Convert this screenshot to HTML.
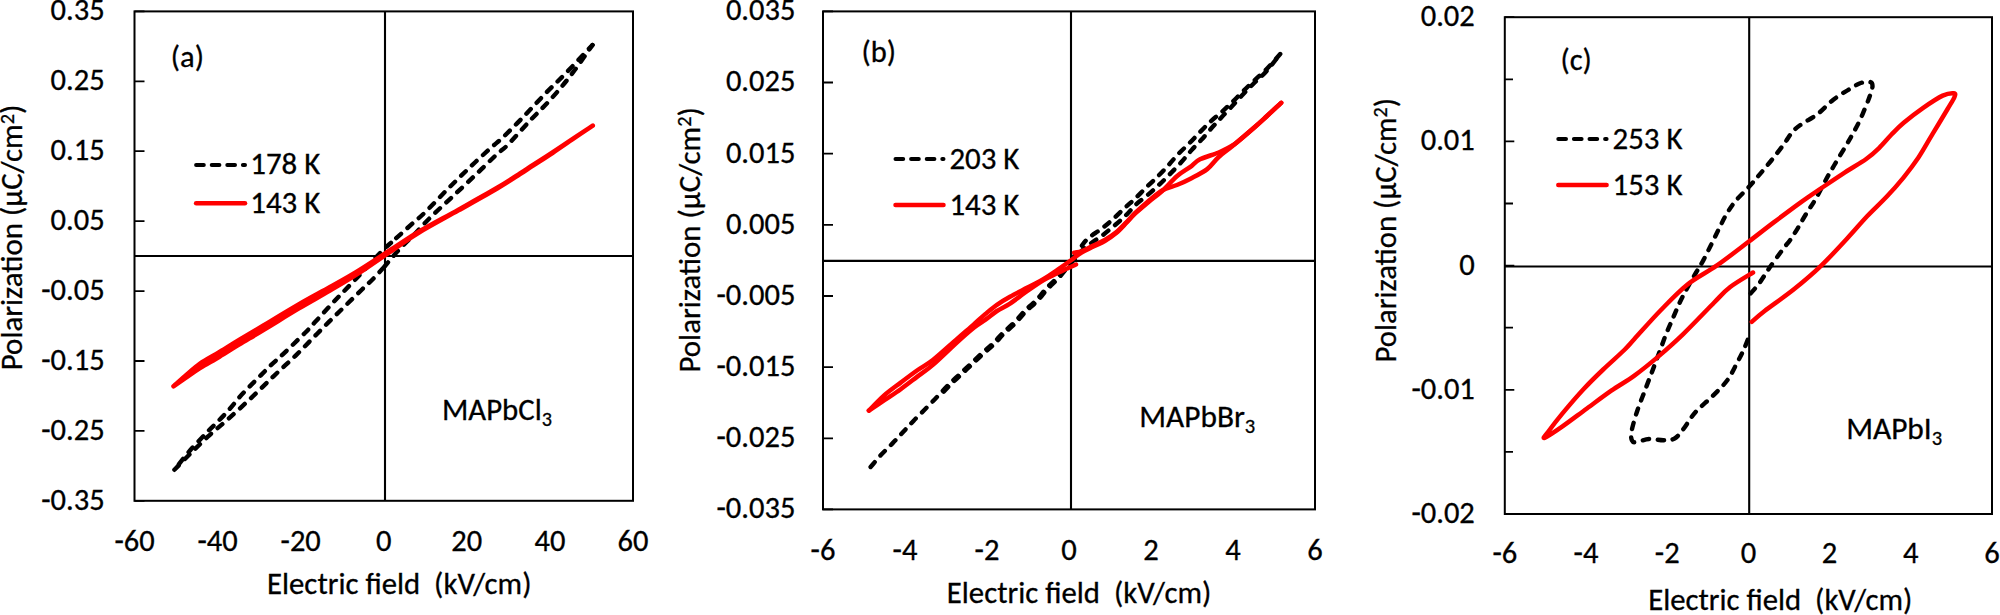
<!DOCTYPE html>
<html><head><meta charset="utf-8"><title>P-E hysteresis loops</title>
<style>
html,body{margin:0;padding:0;background:#fff;}
svg{display:block;}
text{font-family:Carlito, 'Liberation Sans', Arial, sans-serif;font-size:30.5px;fill:#000;stroke:#000;stroke-width:0.3px;}
</style></head><body>
<svg width="2000" height="615" viewBox="0 0 2000 615">
<rect width="2000" height="615" fill="#fff"/>
<path d="M134.5 256.0 H633.0 M385.0 11.4 V500.8" stroke="#000" stroke-width="2.1" fill="none"/>
<path d="M134.5 11.4 h10 M134.5 81.3 h10 M134.5 151.2 h10 M134.5 221.1 h10 M134.5 291.1 h10 M134.5 361.0 h10 M134.5 430.9 h10 M134.5 500.8 h10 " stroke="#000" stroke-width="1.8" fill="none"/>
<rect x="134.5" y="11.4" width="498.5" height="489.4" fill="none" stroke="#000" stroke-width="2"/>
<text x="104.6" y="20.3" text-anchor="end" textLength="54.1" lengthAdjust="spacingAndGlyphs">0.35</text>
<text x="104.6" y="90.2" text-anchor="end" textLength="54.1" lengthAdjust="spacingAndGlyphs">0.25</text>
<text x="104.6" y="160.1" text-anchor="end" textLength="54.1" lengthAdjust="spacingAndGlyphs">0.15</text>
<text x="104.6" y="230.0" text-anchor="end" textLength="54.1" lengthAdjust="spacingAndGlyphs">0.05</text>
<text x="104.6" y="300.0" text-anchor="end" textLength="63.4" lengthAdjust="spacingAndGlyphs">-0.05</text>
<text x="104.6" y="369.9" text-anchor="end" textLength="63.4" lengthAdjust="spacingAndGlyphs">-0.15</text>
<text x="104.6" y="439.8" text-anchor="end" textLength="63.4" lengthAdjust="spacingAndGlyphs">-0.25</text>
<text x="104.6" y="509.7" text-anchor="end" textLength="63.4" lengthAdjust="spacingAndGlyphs">-0.35</text>
<text x="134.5" y="550.6" text-anchor="middle" textLength="40.2" lengthAdjust="spacingAndGlyphs">-60</text>
<text x="217.6" y="550.6" text-anchor="middle" textLength="40.2" lengthAdjust="spacingAndGlyphs">-40</text>
<text x="300.7" y="550.6" text-anchor="middle" textLength="40.2" lengthAdjust="spacingAndGlyphs">-20</text>
<text x="383.8" y="550.6" text-anchor="middle" textLength="15.5" lengthAdjust="spacingAndGlyphs">0</text>
<text x="466.8" y="550.6" text-anchor="middle" textLength="30.9" lengthAdjust="spacingAndGlyphs">20</text>
<text x="549.9" y="550.6" text-anchor="middle" textLength="30.9" lengthAdjust="spacingAndGlyphs">40</text>
<text x="633.0" y="550.6" text-anchor="middle" textLength="30.9" lengthAdjust="spacingAndGlyphs">60</text>
<text x="267.0" y="594.3" textLength="264.5" lengthAdjust="spacingAndGlyphs" xml:space="preserve">Electric field&#160; (kV/cm)</text>
<text transform="translate(22.3 370.2) rotate(-90)" x="0" y="0" textLength="265.5" lengthAdjust="spacingAndGlyphs">Polarization (µC/cm<tspan font-size="20" dy="-8.7">2</tspan><tspan dy="8.7">)</tspan></text>
<path d="M196.1 164.9 H245.0" stroke="#000" stroke-width="4" stroke-linecap="round" stroke-dasharray="7.7 7.9" fill="none"/>
<path d="M196.1 203.2 H245.0" stroke="#f00" stroke-width="4.5" stroke-linecap="round" fill="none"/>
<text x="250.3" y="174.4" textLength="70.0" lengthAdjust="spacingAndGlyphs">178 K</text>
<text x="250.3" y="212.7" textLength="70.0" lengthAdjust="spacingAndGlyphs">143 K</text>
<text x="170.8" y="67.3" textLength="33.1" lengthAdjust="spacingAndGlyphs">(a)</text>
<text x="442.0" y="419.8" textLength="110.0" lengthAdjust="spacingAndGlyphs">MAPbCl<tspan font-size="20" dy="6">3</tspan></text>
<path d="M174.4 469.8 C177.0 467.2 184.4 459.5 190.0 454.0 C195.6 448.5 201.5 442.5 207.8 436.7 C214.1 430.9 220.8 425.6 228.0 419.2 C235.2 412.8 243.1 405.5 250.7 398.4 C258.3 391.2 266.1 383.4 273.5 376.3 C280.9 369.2 288.1 362.9 295.4 355.8 C302.7 348.7 309.8 341.2 317.2 333.7 C324.6 326.2 332.4 318.4 340.0 311.0 C347.6 303.6 357.0 294.3 362.5 289.0 C368.0 283.7 369.2 282.8 373.0 279.0 C376.8 275.2 383.0 268.2 385.0 266.0" fill="none" stroke="#000" stroke-width="4.4" stroke-linecap="round" stroke-linejoin="round" stroke-dasharray="6.4 8.6"/>
<path d="M174.4 469.8 C177.0 466.6 184.4 456.9 190.0 450.5 C195.6 444.1 203.0 436.5 207.8 431.5 C212.6 426.5 215.3 424.2 218.9 420.5 C222.5 416.8 226.0 413.2 229.3 409.4 C232.7 405.6 235.7 401.5 239.0 397.7 C242.3 393.9 245.8 390.4 249.4 386.7 C253.0 383.0 256.8 379.3 260.5 375.6 C264.2 371.9 267.7 368.2 271.5 364.6 C275.3 361.0 277.5 359.4 283.1 354.1 C288.7 348.8 299.6 338.2 304.9 333.0 C310.1 327.8 309.6 328.0 314.6 322.6 C319.6 317.2 328.0 307.9 335.0 300.5 C342.0 293.1 349.2 286.0 356.8 278.0 C364.4 270.0 375.0 258.3 380.7 252.4 C386.4 246.5 389.3 244.4 391.0 242.8" fill="none" stroke="#000" stroke-width="4.4" stroke-linecap="round" stroke-linejoin="round" stroke-dasharray="6.4 8.6" stroke-dashoffset="7.5"/>
<path d="M592.5 45.0 C588.9 50.0 577.9 66.2 570.9 75.2 C563.9 84.2 557.6 91.6 550.7 99.3 C543.8 107.0 536.4 113.8 529.3 121.4 C522.1 129.0 513.3 139.2 507.8 144.8 C502.3 150.4 501.6 149.8 496.1 155.0 C490.6 160.2 482.0 168.8 474.6 175.8 C467.2 182.8 459.3 190.3 451.9 197.2 C444.5 204.1 436.0 211.9 430.4 217.4 C424.8 222.9 421.8 226.5 418.3 230.2 C414.8 233.9 412.6 236.0 409.2 239.5 C405.8 243.0 401.8 246.6 397.8 251.0 C393.8 255.4 387.1 263.5 385.0 266.0" fill="none" stroke="#000" stroke-width="4.4" stroke-linecap="round" stroke-linejoin="round" stroke-dasharray="6.4 8.6" stroke-dashoffset="1"/>
<path d="M592.5 45.0 C588.2 49.5 574.8 63.9 567.0 72.0 C559.2 80.1 552.5 86.2 545.5 93.4 C538.5 100.7 531.7 108.2 524.7 115.5 C517.7 122.8 508.9 131.6 503.3 137.0 C497.7 142.4 496.6 142.6 490.9 147.8 C485.1 153.0 476.2 161.2 468.8 168.3 C461.4 175.4 454.0 182.8 446.7 190.1 C439.4 197.4 430.9 206.6 425.2 212.2 C419.5 217.8 418.3 218.3 412.6 223.4 C406.9 228.5 394.6 239.6 391.0 242.8" fill="none" stroke="#000" stroke-width="4.4" stroke-linecap="round" stroke-linejoin="round" stroke-dasharray="6.4 8.6" stroke-dashoffset="1"/>
<path d="M173.5 386.3 C175.6 384.9 181.6 380.8 186.0 377.7 C190.4 374.6 194.4 371.5 200.0 368.0 C205.6 364.5 213.0 360.6 219.5 356.7 C226.0 352.8 231.6 349.2 239.0 344.7 C246.4 340.2 253.8 335.9 263.8 329.8 C273.8 323.8 288.0 314.9 299.0 308.4 C310.0 301.9 320.0 296.5 330.0 290.6 C340.0 284.7 348.2 280.1 358.8 273.2 C369.4 266.3 383.8 256.1 393.9 249.3 C404.0 242.5 408.7 238.8 419.5 232.3 C430.3 225.8 445.5 217.7 458.5 210.4 C471.5 203.1 487.4 194.3 497.6 188.3 C507.9 182.3 514.1 178.0 520.0 174.2 C525.9 170.4 527.6 169.1 533.0 165.6 C538.4 162.1 546.0 157.3 552.5 153.0 C559.0 148.7 565.3 144.3 572.0 139.7 C578.7 135.1 589.3 127.9 592.8 125.6 L592.8 125.6 C589.3 127.9 578.7 134.8 572.0 139.3 C565.3 143.8 559.0 148.1 552.5 152.4 C546.0 156.6 538.4 161.3 533.0 164.8 C527.6 168.3 525.9 169.6 520.0 173.4 C514.1 177.2 507.9 181.5 497.6 187.5 C487.4 193.5 471.5 202.3 458.5 209.6 C445.5 216.9 430.3 225.0 419.5 231.3 C408.7 237.7 404.0 241.2 393.9 247.7 C383.8 254.2 369.4 263.9 358.8 270.4 C348.2 277.0 340.0 281.4 330.0 287.0 C320.0 292.6 310.0 297.8 299.0 304.2 C288.0 310.6 273.8 319.2 263.8 325.2 C253.8 331.1 246.4 335.5 239.0 339.9 C231.6 344.4 226.0 348.0 219.5 351.9 C213.0 355.9 205.6 359.7 200.0 363.6 C194.4 367.5 190.4 371.5 186.0 375.3 C181.6 379.1 175.6 384.5 173.5 386.3" fill="none" stroke="#f00" stroke-width="4.5" stroke-linecap="round" stroke-linejoin="round"/>
<path d="M823.0 260.9 H1315.0 M1071.0 11.4 V509.4" stroke="#000" stroke-width="2.1" fill="none"/>
<path d="M823.0 11.4 h10 M823.0 82.5 h10 M823.0 153.7 h10 M823.0 224.8 h10 M823.0 296.0 h10 M823.0 367.1 h10 M823.0 438.3 h10 M823.0 509.4 h10 " stroke="#000" stroke-width="1.8" fill="none"/>
<rect x="823.0" y="11.4" width="492.0" height="498.0" fill="none" stroke="#000" stroke-width="2"/>
<text x="795.4" y="20.3" text-anchor="end" textLength="69.5" lengthAdjust="spacingAndGlyphs">0.035</text>
<text x="795.4" y="91.4" text-anchor="end" textLength="69.5" lengthAdjust="spacingAndGlyphs">0.025</text>
<text x="795.4" y="162.6" text-anchor="end" textLength="69.5" lengthAdjust="spacingAndGlyphs">0.015</text>
<text x="795.4" y="233.7" text-anchor="end" textLength="69.5" lengthAdjust="spacingAndGlyphs">0.005</text>
<text x="795.4" y="304.9" text-anchor="end" textLength="78.9" lengthAdjust="spacingAndGlyphs">-0.005</text>
<text x="795.4" y="376.0" text-anchor="end" textLength="78.9" lengthAdjust="spacingAndGlyphs">-0.015</text>
<text x="795.4" y="447.2" text-anchor="end" textLength="78.9" lengthAdjust="spacingAndGlyphs">-0.025</text>
<text x="795.4" y="518.3" text-anchor="end" textLength="78.9" lengthAdjust="spacingAndGlyphs">-0.035</text>
<text x="823.0" y="560.3" text-anchor="middle" textLength="24.8" lengthAdjust="spacingAndGlyphs">-6</text>
<text x="905.0" y="560.3" text-anchor="middle" textLength="24.8" lengthAdjust="spacingAndGlyphs">-4</text>
<text x="987.0" y="560.3" text-anchor="middle" textLength="24.8" lengthAdjust="spacingAndGlyphs">-2</text>
<text x="1069.0" y="560.3" text-anchor="middle" textLength="15.5" lengthAdjust="spacingAndGlyphs">0</text>
<text x="1151.0" y="560.3" text-anchor="middle" textLength="15.5" lengthAdjust="spacingAndGlyphs">2</text>
<text x="1233.0" y="560.3" text-anchor="middle" textLength="15.5" lengthAdjust="spacingAndGlyphs">4</text>
<text x="1315.0" y="560.3" text-anchor="middle" textLength="15.5" lengthAdjust="spacingAndGlyphs">6</text>
<text x="946.8" y="603.3" textLength="264.5" lengthAdjust="spacingAndGlyphs" xml:space="preserve">Electric field&#160; (kV/cm)</text>
<text transform="translate(700.0 372.5) rotate(-90)" x="0" y="0" textLength="265.3" lengthAdjust="spacingAndGlyphs">Polarization (µC/cm<tspan font-size="20" dy="-8.7">2</tspan><tspan dy="8.7">)</tspan></text>
<path d="M895.5 159.1 H943.5" stroke="#000" stroke-width="4" stroke-linecap="round" stroke-dasharray="7.7 7.9" fill="none"/>
<path d="M895.5 205.0 H943.5" stroke="#f00" stroke-width="4.5" stroke-linecap="round" fill="none"/>
<text x="949.4" y="168.6" textLength="70.0" lengthAdjust="spacingAndGlyphs">203 K</text>
<text x="949.4" y="214.5" textLength="70.0" lengthAdjust="spacingAndGlyphs">143 K</text>
<text x="861.5" y="61.8" textLength="34.5" lengthAdjust="spacingAndGlyphs">(b)</text>
<text x="1139.3" y="426.8" textLength="116.0" lengthAdjust="spacingAndGlyphs">MAPbBr<tspan font-size="20" dy="6">3</tspan></text>
<path d="M870.6 467.0 C872.4 465.0 877.5 458.7 881.1 454.8 C884.8 450.9 888.8 447.2 892.5 443.4 C896.2 439.6 899.6 435.8 903.1 432.0 C906.6 428.2 909.8 424.8 913.7 420.7 C917.6 416.6 922.7 411.7 926.7 407.6 C930.8 403.5 934.3 399.8 938.0 395.9 C941.7 392.0 945.4 387.9 949.1 384.2 C952.8 380.5 956.4 377.3 960.1 373.8 C963.8 370.3 967.5 366.9 971.2 363.4 C974.9 359.9 978.5 356.4 982.2 353.0 C985.9 349.6 989.8 346.6 993.3 343.2 C996.8 339.8 999.4 336.3 1003.0 332.8 C1006.6 329.3 1011.1 325.7 1014.8 322.0 C1018.5 318.3 1021.4 314.1 1025.0 310.5 C1028.6 306.9 1032.6 304.0 1036.2 300.3 C1039.8 296.6 1042.8 292.2 1046.4 288.3 C1050.0 284.4 1054.0 281.1 1057.8 277.0 C1061.6 272.9 1066.3 266.8 1069.1 263.5 C1071.9 260.2 1073.6 258.5 1074.5 257.5" fill="none" stroke="#000" stroke-width="4.4" stroke-linecap="round" stroke-linejoin="round" stroke-dasharray="6.4 8.6"/>
<path d="M938.9 396.8 C940.8 394.8 946.3 388.8 950.0 385.1 C953.7 381.4 957.3 378.2 961.0 374.7 C964.7 371.2 968.4 367.8 972.1 364.3 C975.8 360.8 979.4 357.3 983.1 353.9 C986.8 350.5 990.7 347.5 994.2 344.1 C997.7 340.7 1000.3 337.2 1003.9 333.7 C1007.5 330.2 1012.0 326.6 1015.7 322.9 C1019.4 319.2 1022.3 315.0 1025.9 311.4 C1029.5 307.8 1033.5 304.9 1037.1 301.2 C1040.7 297.5 1043.7 293.1 1047.3 289.2 C1050.9 285.3 1054.9 282.0 1058.7 277.9 C1062.5 273.8 1067.2 267.6 1070.0 264.4 C1072.8 261.1 1074.5 259.4 1075.4 258.4" fill="none" stroke="#000" stroke-width="4.4" stroke-linecap="round" stroke-linejoin="round" stroke-dasharray="6.4 8.6" stroke-dashoffset="98.00"/>
<path d="M1069.1 263.5 C1071.0 261.6 1076.8 255.4 1080.5 252.0 C1084.2 248.6 1087.5 246.0 1091.2 243.2 C1094.9 240.4 1098.5 238.3 1102.5 235.3 C1106.5 232.3 1111.1 228.4 1115.1 225.0 C1119.1 221.6 1122.9 218.2 1126.4 214.8 C1129.9 211.4 1132.2 208.0 1135.9 204.6 C1139.6 201.2 1144.4 197.8 1148.4 194.4 C1152.4 191.0 1156.2 187.5 1159.8 184.1 C1163.4 180.7 1166.5 177.6 1170.1 173.9 C1173.7 170.2 1177.8 166.1 1181.4 162.1 C1185.0 158.1 1188.2 153.9 1191.6 150.1 C1195.0 146.3 1198.4 143.2 1201.9 139.3 C1205.4 135.4 1209.4 130.5 1212.7 126.8 C1216.0 123.1 1218.5 120.6 1221.8 117.1 C1225.0 113.6 1228.7 109.8 1232.2 106.0 C1235.7 102.2 1239.3 98.2 1242.9 94.5 C1246.5 90.8 1249.8 87.3 1253.7 83.5 C1257.6 79.7 1261.8 76.4 1266.2 71.5 C1270.6 66.6 1277.9 56.9 1280.2 54.0" fill="none" stroke="#000" stroke-width="4.4" stroke-linecap="round" stroke-linejoin="round" stroke-dasharray="6.4 8.6"/>
<path d="M1280.2 54.0 C1277.9 56.6 1270.6 65.0 1266.2 69.5 C1261.8 74.0 1257.6 77.3 1253.7 81.0 C1249.8 84.7 1246.5 88.0 1242.9 91.5 C1239.3 95.0 1235.6 98.9 1232.2 102.2 C1228.8 105.5 1225.9 108.2 1222.4 111.4 C1218.9 114.6 1214.8 117.6 1211.0 121.1 C1207.2 124.6 1203.3 128.7 1199.6 132.5 C1195.9 136.3 1192.4 140.2 1188.8 143.8 C1185.2 147.4 1181.5 150.6 1178.0 154.3 C1174.5 158.0 1171.2 162.2 1167.8 165.9 C1164.4 169.6 1161.1 173.1 1157.5 176.7 C1153.9 180.3 1150.0 183.8 1146.2 187.5 C1142.4 191.2 1138.6 195.3 1134.8 198.9 C1131.0 202.5 1127.5 205.4 1123.6 209.0 C1119.7 212.6 1115.5 217.1 1111.6 220.5 C1107.7 223.9 1104.3 226.6 1100.3 229.6 C1096.3 232.6 1091.2 235.5 1087.8 238.7 C1084.4 241.8 1082.9 244.4 1079.8 248.5 C1076.7 252.6 1070.9 261.0 1069.1 263.5" fill="none" stroke="#000" stroke-width="4.4" stroke-linecap="round" stroke-linejoin="round" stroke-dasharray="6.4 8.6"/>
<path d="M1074.1 252.8 C1075.4 252.5 1078.8 252.2 1082.0 251.0 C1085.2 249.8 1089.6 247.4 1093.4 245.6 C1097.2 243.8 1101.0 242.2 1104.8 240.0 C1108.6 237.8 1112.6 235.2 1116.2 232.3 C1119.8 229.4 1123.3 225.5 1126.4 222.3 C1129.5 219.1 1131.4 216.7 1135.0 213.2 C1138.6 209.7 1143.5 205.3 1148.0 201.5 C1152.5 197.7 1157.3 193.2 1162.1 190.5 C1166.9 187.8 1172.2 186.9 1176.9 185.0 C1181.6 183.1 1185.0 181.7 1190.0 179.0 C1195.0 176.3 1202.4 172.8 1207.2 169.1 C1212.0 165.4 1214.5 160.8 1218.7 157.0 C1222.9 153.2 1226.4 151.1 1232.2 146.3 C1238.0 141.5 1247.9 133.1 1253.7 128.0 C1259.5 123.0 1262.4 120.2 1267.0 116.0 C1271.6 111.8 1278.8 105.0 1281.2 102.8" fill="none" stroke="#f00" stroke-width="4.5" stroke-linecap="round" stroke-linejoin="round"/>
<path d="M1281.2 102.8 C1278.8 105.0 1271.6 111.8 1267.0 116.0 C1262.4 120.2 1258.9 123.5 1253.7 128.0 C1248.5 132.5 1239.4 140.3 1235.8 143.2 C1232.2 146.1 1235.0 143.9 1232.2 145.5 C1229.4 147.1 1224.1 150.2 1218.7 152.5 C1213.3 154.8 1204.8 156.9 1200.0 159.3 C1195.2 161.7 1193.8 164.3 1190.0 167.1 C1186.2 169.9 1181.6 172.2 1176.9 176.2 C1172.2 180.2 1166.9 186.6 1162.1 191.0 C1157.3 195.4 1152.5 198.7 1148.0 202.5 C1143.5 206.3 1138.6 210.3 1135.0 213.7 C1131.4 217.1 1129.5 219.6 1126.4 222.8 C1123.3 226.0 1119.8 230.0 1116.2 233.0 C1112.6 236.0 1108.6 238.7 1104.8 241.0 C1101.0 243.3 1097.2 244.7 1093.4 246.6 C1089.6 248.5 1085.7 250.1 1082.0 252.3 C1078.3 254.5 1075.4 257.1 1071.4 260.0 C1067.4 262.9 1062.3 266.5 1057.8 269.6 C1053.2 272.7 1049.2 275.7 1044.1 278.7 C1039.0 281.7 1032.7 284.8 1027.0 287.8 C1021.3 290.8 1015.0 294.0 1010.0 296.8 C1005.0 299.6 1001.0 302.0 996.9 304.8 C992.8 307.6 989.3 310.7 985.5 313.9 C981.7 317.1 978.8 319.9 974.1 324.1 C969.4 328.3 963.9 332.9 957.1 338.9 C950.3 344.8 939.9 354.5 933.2 359.8 C926.5 365.1 922.4 366.7 917.0 370.5 C911.6 374.3 906.1 378.5 900.7 382.6 C895.3 386.7 889.7 390.5 884.4 395.2 C879.1 399.9 871.5 408.0 868.9 410.6" fill="none" stroke="#f00" stroke-width="4.5" stroke-linecap="round" stroke-linejoin="round"/>
<path d="M868.9 410.6 C871.5 408.9 879.1 403.8 884.4 400.2 C889.7 396.6 895.3 393.1 900.7 389.2 C906.1 385.3 911.6 381.0 917.0 376.9 C922.4 372.8 926.5 370.4 933.2 364.6 C939.9 358.8 950.3 348.5 957.1 342.3 C963.9 336.1 969.4 331.3 974.1 327.5 C978.8 323.7 981.7 322.4 985.5 319.6 C989.3 316.9 992.8 313.7 996.9 311.0 C1001.0 308.3 1005.0 306.9 1010.0 303.6 C1015.0 300.3 1021.3 295.2 1027.0 291.2 C1032.7 287.2 1039.3 282.6 1044.1 279.8 C1048.8 277.0 1052.1 275.8 1055.5 274.1 C1058.9 272.4 1061.2 271.2 1064.6 269.6 C1068.0 268.0 1074.1 265.4 1076.0 264.5" fill="none" stroke="#f00" stroke-width="4.5" stroke-linecap="round" stroke-linejoin="round"/>
<path d="M1504.8 266.5 H1992.0 M1749.2 17.2 V514.0" stroke="#000" stroke-width="2.1" fill="none"/>
<path d="M1504.8 17.2 h9.5 M1504.8 79.3 h8.2 M1504.8 141.4 h9.5 M1504.8 203.5 h8.2 M1504.8 265.6 h9.5 M1504.8 327.7 h8.2 M1504.8 389.8 h9.5 M1504.8 451.9 h8.2 M1504.8 514.0 h9.5 " stroke="#000" stroke-width="1.8" fill="none"/>
<rect x="1504.8" y="17.2" width="487.2" height="496.8" fill="none" stroke="#000" stroke-width="2"/>
<text x="1474.8" y="26.1" text-anchor="end" textLength="54.1" lengthAdjust="spacingAndGlyphs">0.02</text>
<text x="1474.8" y="150.3" text-anchor="end" textLength="54.1" lengthAdjust="spacingAndGlyphs">0.01</text>
<text x="1474.8" y="274.5" text-anchor="end" textLength="15.5" lengthAdjust="spacingAndGlyphs">0</text>
<text x="1474.8" y="398.7" text-anchor="end" textLength="63.4" lengthAdjust="spacingAndGlyphs">-0.01</text>
<text x="1474.8" y="522.9" text-anchor="end" textLength="63.4" lengthAdjust="spacingAndGlyphs">-0.02</text>
<text x="1504.8" y="563.2" text-anchor="middle" textLength="24.8" lengthAdjust="spacingAndGlyphs">-6</text>
<text x="1586.0" y="563.2" text-anchor="middle" textLength="24.8" lengthAdjust="spacingAndGlyphs">-4</text>
<text x="1667.2" y="563.2" text-anchor="middle" textLength="24.8" lengthAdjust="spacingAndGlyphs">-2</text>
<text x="1748.4" y="563.2" text-anchor="middle" textLength="15.5" lengthAdjust="spacingAndGlyphs">0</text>
<text x="1829.6" y="563.2" text-anchor="middle" textLength="15.5" lengthAdjust="spacingAndGlyphs">2</text>
<text x="1910.8" y="563.2" text-anchor="middle" textLength="15.5" lengthAdjust="spacingAndGlyphs">4</text>
<text x="1992.0" y="563.2" text-anchor="middle" textLength="15.5" lengthAdjust="spacingAndGlyphs">6</text>
<text x="1648.3" y="609.8" textLength="264.0" lengthAdjust="spacingAndGlyphs" xml:space="preserve">Electric field&#160; (kV/cm)</text>
<text transform="translate(1396.0 362.5) rotate(-90)" x="0" y="0" textLength="264.6" lengthAdjust="spacingAndGlyphs">Polarization (µC/cm<tspan font-size="20" dy="-8.7">2</tspan><tspan dy="8.7">)</tspan></text>
<path d="M1558.3 139.0 H1606.6" stroke="#000" stroke-width="4" stroke-linecap="round" stroke-dasharray="7.7 7.9" fill="none"/>
<path d="M1558.3 185.1 H1606.6" stroke="#f00" stroke-width="4.5" stroke-linecap="round" fill="none"/>
<text x="1612.5" y="148.5" textLength="70.0" lengthAdjust="spacingAndGlyphs">253 K</text>
<text x="1612.5" y="194.6" textLength="70.0" lengthAdjust="spacingAndGlyphs">153 K</text>
<text x="1560.4" y="69.8" textLength="31.4" lengthAdjust="spacingAndGlyphs">(c)</text>
<text x="1846.2" y="439.2" textLength="96.0" lengthAdjust="spacingAndGlyphs">MAPbI<tspan font-size="20" dy="6">3</tspan></text>
<path d="M1750.7 293.4 C1752.2 291.6 1756.7 286.8 1759.8 282.5 C1762.9 278.2 1765.6 273.4 1769.5 267.8 C1773.4 262.2 1779.8 253.4 1783.2 248.8 C1786.6 244.2 1787.5 243.8 1790.0 240.3 C1792.5 236.8 1795.3 232.2 1798.0 227.8 C1800.7 223.4 1803.0 218.9 1806.0 214.1 C1809.0 209.2 1812.3 204.8 1815.8 198.7 C1819.3 192.6 1823.7 183.7 1827.2 177.4 C1830.7 171.1 1833.7 166.2 1836.9 160.7 C1840.2 155.2 1844.0 149.0 1846.7 144.4 C1849.4 139.8 1851.0 137.0 1853.2 133.0 C1855.4 129.0 1857.6 125.1 1859.7 120.6 C1861.8 116.1 1864.2 110.3 1866.0 106.0 C1867.8 101.7 1869.2 97.9 1870.3 94.6 C1871.4 91.3 1872.5 88.1 1872.5 86.0 C1872.5 83.9 1872.2 82.4 1870.0 82.0 C1867.8 81.6 1863.3 82.1 1859.5 83.5 C1855.7 84.9 1851.8 87.7 1847.3 90.5 C1842.8 93.3 1837.6 96.3 1832.7 100.2 C1827.8 104.1 1823.3 109.6 1818.0 113.7 C1812.7 117.8 1805.3 121.5 1801.0 124.6 C1796.7 127.6 1795.2 128.8 1792.4 132.0 C1789.6 135.2 1787.4 139.4 1783.9 144.1 C1780.5 148.8 1775.8 154.9 1771.7 160.0 C1767.6 165.1 1763.3 170.1 1759.5 174.6 C1755.7 179.1 1753.1 182.2 1749.0 186.8 C1744.9 191.4 1738.7 197.1 1734.8 201.9 C1730.9 206.7 1728.4 211.1 1725.7 215.6 C1723.0 220.1 1721.3 224.3 1718.8 229.2 C1716.3 234.1 1713.6 239.9 1710.9 245.2 C1708.2 250.5 1705.4 256.6 1702.9 261.1 C1700.4 265.7 1698.8 267.9 1696.1 272.5 C1693.4 277.1 1689.7 283.6 1687.0 288.5 C1684.3 293.4 1682.3 297.2 1680.0 302.0 C1677.7 306.8 1675.7 311.8 1673.4 317.1 C1671.1 322.5 1668.5 328.0 1666.1 334.1 C1663.7 340.2 1661.2 347.2 1658.8 353.7 C1656.4 360.2 1654.0 366.7 1651.5 373.2 C1649.0 379.7 1646.5 386.2 1644.1 392.7 C1641.6 399.2 1638.9 405.7 1636.8 412.2 C1634.7 418.7 1632.3 427.0 1631.5 431.7 C1630.7 436.4 1631.2 438.8 1632.0 440.5 C1632.8 442.2 1633.2 442.4 1636.0 442.2 C1638.8 441.9 1644.4 439.3 1649.0 439.0 C1653.6 438.7 1659.4 440.3 1663.7 440.2 C1668.0 440.1 1671.3 440.3 1674.6 438.5 C1677.8 436.7 1679.7 433.7 1683.2 429.3 C1686.7 424.9 1690.5 417.7 1695.4 412.2 C1700.3 406.7 1707.1 401.6 1712.4 396.3 C1717.7 391.0 1723.0 386.0 1727.1 380.5 C1731.2 375.0 1734.0 368.7 1736.8 363.4 C1739.6 358.1 1741.9 353.8 1744.1 348.8 C1746.3 343.9 1749.0 336.2 1750.0 333.7" fill="none" stroke="#000" stroke-width="4.4" stroke-linecap="round" stroke-linejoin="round" stroke-dasharray="6.4 8.6"/>
<path d="M1751.8 321.9 C1753.9 320.1 1757.6 316.4 1764.6 311.0 C1771.6 305.6 1784.6 296.8 1793.9 289.3 C1803.2 281.8 1811.8 274.7 1820.7 266.1 C1829.7 257.6 1839.9 246.3 1847.6 238.0 C1855.3 229.7 1860.6 223.2 1867.1 216.3 C1873.6 209.4 1880.5 203.3 1886.6 196.8 C1892.7 190.3 1898.4 183.8 1903.7 177.3 C1909.0 170.8 1913.4 165.1 1918.3 157.8 C1923.2 150.5 1928.0 141.5 1932.9 133.4 C1937.8 125.3 1944.0 115.1 1947.6 109.0 C1951.2 102.9 1953.5 99.6 1954.5 97.0 C1955.5 94.4 1955.7 93.4 1953.7 93.2 C1951.7 93.0 1947.8 93.2 1942.7 95.6 C1937.6 98.0 1929.7 103.3 1923.2 107.8 C1916.7 112.3 1909.0 118.3 1903.7 122.8 C1898.4 127.2 1895.6 130.3 1891.5 134.5 C1887.4 138.7 1883.5 143.7 1879.3 147.8 C1875.1 151.9 1871.9 154.9 1866.2 159.0 C1860.5 163.1 1852.3 167.6 1845.0 172.3 C1837.7 177.1 1829.6 182.5 1822.3 187.5 C1815.0 192.5 1809.1 196.3 1801.1 202.1 C1793.1 207.9 1782.9 215.5 1774.1 222.1 C1765.3 228.7 1758.1 234.5 1748.5 241.8 C1738.9 249.1 1726.9 258.5 1716.6 265.7 C1706.3 272.9 1696.3 277.4 1686.9 285.0 C1677.5 292.6 1668.8 302.0 1660.0 311.0 C1651.2 320.0 1640.4 332.5 1634.4 339.0 C1628.5 345.5 1629.5 344.9 1624.3 350.0 C1619.1 355.1 1610.0 363.0 1603.2 369.5 C1596.4 376.0 1590.5 381.7 1583.7 389.0 C1576.9 396.3 1568.5 406.2 1562.5 413.4 C1556.5 420.6 1551.0 427.9 1548.0 432.0 C1545.0 436.1 1542.2 438.7 1544.6 437.8 C1547.0 436.9 1555.5 431.3 1562.5 426.4 C1569.5 421.5 1578.8 414.4 1586.9 408.5 C1595.0 402.6 1603.4 396.2 1611.3 390.7 C1619.2 385.2 1626.5 381.4 1634.4 375.6 C1642.3 369.8 1650.7 363.0 1658.8 356.1 C1666.9 349.2 1674.0 343.0 1683.2 334.1 C1692.4 325.2 1706.4 310.4 1714.2 302.5 C1722.0 294.6 1723.7 292.0 1730.2 287.0 C1736.7 282.0 1749.2 274.9 1753.0 272.5" fill="none" stroke="#f00" stroke-width="4.5" stroke-linecap="round" stroke-linejoin="round"/>
</svg>
</body></html>
